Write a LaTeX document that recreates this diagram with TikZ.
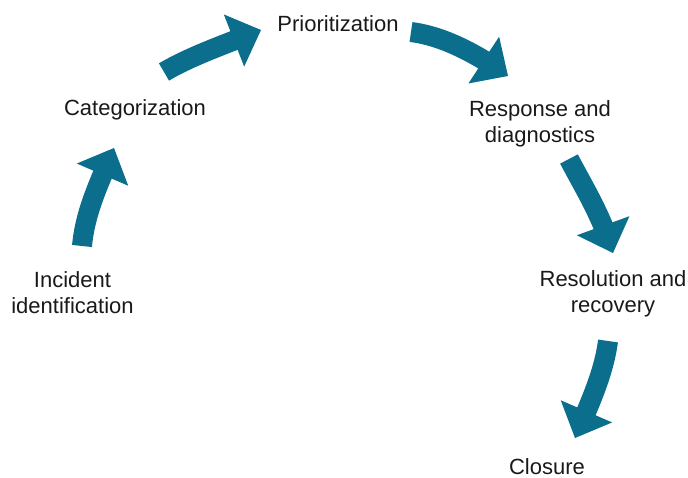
\documentclass[tikz,border=0pt]{standalone}
\usepackage{fontspec}
\setmainfont{Liberation Sans}
\usetikzlibrary{arrows.meta,bending}
\definecolor{cyc}{RGB}{11,110,140}
\definecolor{txt}{RGB}{25,25,25}
\begin{document}
\begin{tikzpicture}[x=1pt,y=-1pt,
  lbl/.style={font=\fontsize{22}{26}\selectfont,text=txt,align=center,inner sep=0pt,anchor=base},
  cycarrow/.style={draw=cyc,line width=20pt,line cap=butt,
    -{Triangle[width=56pt,length=29pt,line width=0pt]}}]
\useasboundingbox (0,0) rectangle (688,478);
% labels (base = baseline of the last line)
\node[lbl] (cat) at (135,116) {Categorization};
\node[lbl] (pri) at (338,31.5) {Prioritization};
\node[lbl] (res) at (540,142.5) {Response and\\diagnostics};
\node[lbl] (inc) at (72.5,313) {Incident\\identification};
\node[lbl] (rec) at (613,312.7) {Resolution and\\recovery};
\node[lbl] (clo) at (547,474) {Closure};
% arrow end points
\coordinate (t1) at (82,246);  \coordinate (h1) at (114,148);
\coordinate (t2) at (164,72);  \coordinate (h2) at (261,30);
\coordinate (t3) at (411,32);  \coordinate (h3) at (508,76);
\coordinate (t4) at (569,159); \coordinate (h4) at (613,253);
\coordinate (t5) at (608,341); \coordinate (h5) at (575,438);
\draw[cycarrow] (t1) .. controls (85,213) and (98,185) .. (h1);
\draw[cycarrow] (t2) .. controls (189,57) and (223,45) .. (h2);
\draw[cycarrow] (t3) .. controls (442,36) and (474,52) .. (h3);
\draw[cycarrow] (t4) .. controls (583,186) and (601,214) .. (h4);
\draw[cycarrow] (t5) .. controls (604,372) and (591,401) .. (h5);
\end{tikzpicture}
\end{document}
